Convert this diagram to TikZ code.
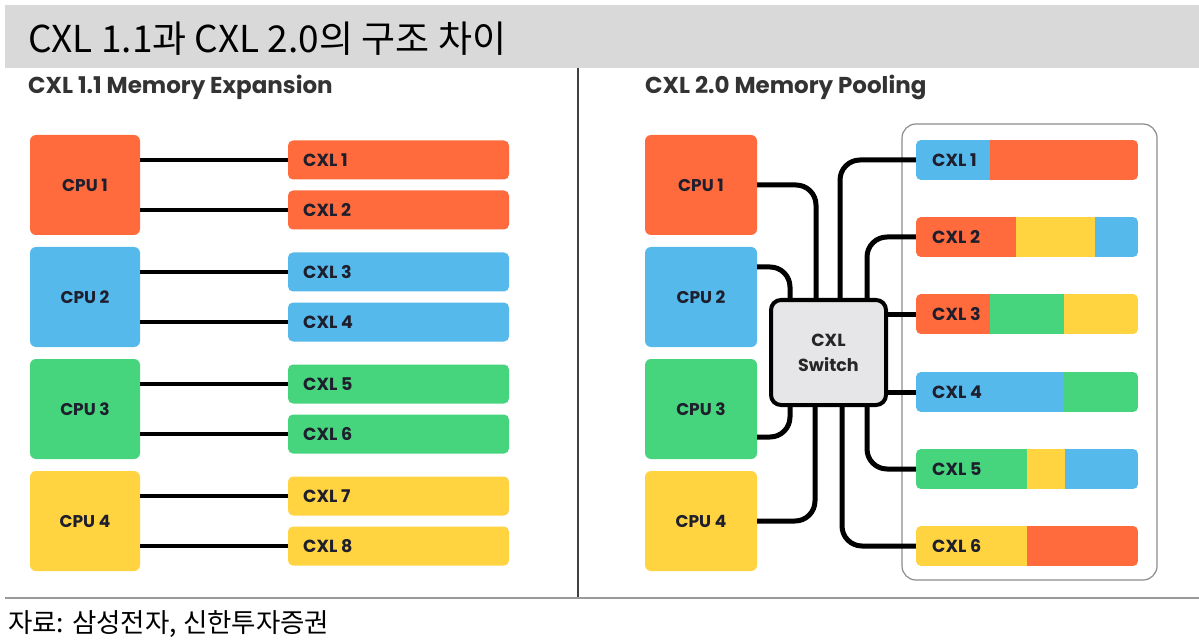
\documentclass[tikz,border=0pt]{standalone}
\usepackage{fontspec}
\newfontfamily\kr{Noto Sans CJK KR}
\newfontfamily\pop{Poppins}
\usetikzlibrary{calc}
\definecolor{corange}{RGB}{255,107,61}
\definecolor{cblue}{RGB}{86,185,235}
\definecolor{cgreen}{RGB}{70,212,125}
\definecolor{cyellow}{RGB}{255,212,64}
\definecolor{ctxt}{RGB}{30,30,45}
\definecolor{bandgray}{RGB}{217,217,217}
\definecolor{swgray}{RGB}{230,230,232}
\newcommand\segbar[4]{%
  \begin{scope}
    \clip[rounded corners=5pt] (916,#2-20) rectangle (1138,#2+20);
    \foreach \s/\e/\c in {#4} {\fill[\c] (\s,#2-20) rectangle (\e+0.5,#2+20);}
  \end{scope}
  \node[minimum width=222pt, minimum height=40pt, inner sep=0pt] (#1) at (1027,#2) {};
  \node[lbl] at (932,#2) {#3};
}
\begin{document}
\begin{tikzpicture}[x=1pt,y=-1pt,
  cpu/.style={rounded corners=6pt, minimum width=110pt, minimum height=100pt, inner sep=0pt, text=ctxt, font=\pop\bfseries\fontsize{17}{17}\selectfont},
  memL/.style={rounded corners=5pt, minimum width=221pt, minimum height=39pt, inner sep=0pt},
  lbl/.style={text=ctxt, font=\pop\bfseries\fontsize{17.5}{17.5}\selectfont, anchor=west, inner sep=0pt},
  link/.style={line width=4pt, black},
  wire/.style={line width=5pt, black, rounded corners=20pt},
  hdr/.style={font=\pop\bfseries\fontsize{23}{23}\selectfont, text=black!80, anchor=west, inner sep=0pt},
]
\useasboundingbox (0,0) rectangle (1199,644);
\fill[white] (0,0) rectangle (1199,644);
\node[fill=bandgray, minimum width=1194pt, minimum height=63pt, anchor=north west, inner sep=0pt] (band) at (5,5) {};
\node[font=\kr\fontsize{37}{37}\selectfont, anchor=west, inner sep=0pt, xscale=1.0] (title) at (28,39) {CXL 1.1과 CXL 2.0의 구조 차이};
\draw[line width=2pt, black!75] (578,68) -- (578,598);
\draw[line width=2pt, black!40] (5,598) -- (1199,598);
\node[font=\kr\fontsize{26.5}{26.5}\selectfont, anchor=west, inner sep=0pt] (src) at (8,624) {자료: 삼성전자, 신한투자증권};

% left panel
\node[hdr] (hL) at (28,87) {CXL 1.1 Memory Expansion};
\foreach \i/\c/\y in {1/corange/185, 2/cblue/297, 3/cgreen/409, 4/cyellow/521} {
  \node[cpu, fill=\c] (cpuL\i) at (85,\y) {CPU \i};
}
\foreach \i/\c/\y in {1/corange/160, 2/corange/210, 3/cblue/272, 4/cblue/322, 5/cgreen/384, 6/cgreen/434, 7/cyellow/496, 8/cyellow/546} {
  \node[memL, fill=\c] (memL\i) at (398.5,\y) {};
  \node[lbl] at (303,\y) {CXL \i};
}
\foreach \i/\j in {1/1,1/2,2/3,2/4,3/5,3/6,4/7,4/8} {
  \draw[link] (cpuL\i.east |- memL\j.west) -- (memL\j.west);
}

% right panel
\node[hdr] (hR) at (645,87) {CXL 2.0 Memory Pooling};
\foreach \i/\c/\y in {1/corange/185, 2/cblue/297, 3/cgreen/409, 4/cyellow/521} {
  \node[cpu, minimum width=112pt, fill=\c] (cpuR\i) at (701,\y) {CPU \i};
}
\node[draw=black!45, line width=1.2pt, rounded corners=14pt, minimum width=255pt, minimum height=456pt, inner sep=0pt] (pool) at (1029.5,352) {};
\node[draw=black, line width=4pt, fill=swgray, rounded corners=10pt, minimum width=115pt, minimum height=105pt, inner sep=0pt, align=center, text=black!85, font=\pop\bfseries\fontsize{17.5}{25}\selectfont] (sw) at (828.5,352.5) {CXL\\Switch};

\draw[wire] (cpuR1.east) -| ([xshift=47pt]sw.north west);
\draw[wire] ([yshift=30pt]cpuR2.east) -| ([xshift=21pt]sw.north west);
\draw[wire] ([yshift=-28pt]cpuR3.east) -| ([xshift=21pt]sw.south west);
\draw[wire] (cpuR4.east) -| ([xshift=46pt]sw.south west);

\segbar{barR1}{160}{CXL 1}{916/990/cblue, 990/1138/corange}
\segbar{barR2}{237}{CXL 2}{916/1016/corange, 1016/1095/cyellow, 1095/1138/cblue}
\segbar{barR3}{314}{CXL 3}{916/990/corange, 990/1064/cgreen, 1064/1138/cyellow}
\segbar{barR4}{392}{CXL 4}{916/1063/cblue, 1063/1138/cgreen}
\segbar{barR5}{469}{CXL 5}{916/1027/cgreen, 1027/1065/cyellow, 1065/1138/cblue}
\segbar{barR6}{546}{CXL 6}{916/1027/cyellow, 1027/1138/corange}

\draw[wire] ([xshift=71pt]sw.north west) |- (barR1.west);
\draw[wire] ([xshift=98pt]sw.north west) |- (barR2.west);
\draw[wire] (barR3.west -| sw.east) -- (barR3.west);
\draw[wire] (barR4.west -| sw.east) -- (barR4.west);
\draw[wire] ([xshift=98pt]sw.south west) |- (barR5.west);
\draw[wire] ([xshift=73pt]sw.south west) |- (barR6.west);
\end{tikzpicture}
\end{document}
